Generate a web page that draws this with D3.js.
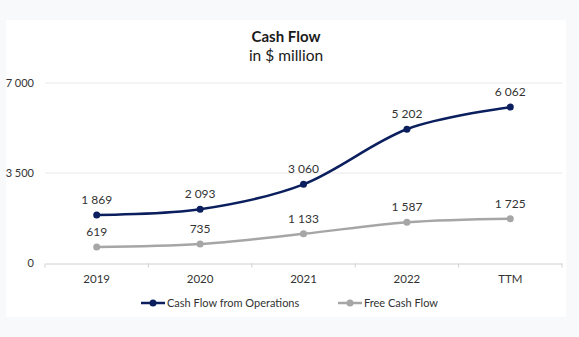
<!DOCTYPE html>
<html><head><meta charset="utf-8">
<script src="https://cdn.jsdelivr.net/npm/d3@7"></script>
<style>
html,body{margin:0;padding:0;background:#f8f9fb;}
svg{display:block;font-family:Lato,"Open Sans",sans-serif;}
</style></head>
<body><svg id="c" width="579" height="337"></svg>
<script>
const categories = ["2019","2020","2021","2022","TTM"];
const cashFlowOps = [1869,2093,3060,5202,6062];
const freeCashFlow = [619,735,1133,1587,1725];
const yTicks = [0,3500,7000];
const seriesNames = ["Cash Flow from Operations","Free Cash Flow"];
const colors = ["#0b1f5e","#a6a6a6"];

const svg = d3.select("#c");
svg.append("rect").attr("x",6).attr("y",20).attr("width",560).attr("height",297).attr("fill","#fff");

const x = d3.scaleBand().domain(categories).range([45,562]);
const y = d3.scaleLinear().domain([0,7000]).range([263,83]);
const fmt = v => d3.format(",")(v).replace(/,/g," ");

svg.append("text").attr("x",286).attr("y",42).attr("text-anchor","middle")
  .attr("font-size",15).attr("font-weight","bold").attr("fill","#1a1a1a").text("Cash Flow");
svg.append("text").attr("x",286).attr("y",61).attr("text-anchor","middle")
  .attr("font-size",15.5).attr("fill","#1a1a1a").text("in $ million");

svg.append("g").selectAll("line").data(yTicks.filter(d=>d>0)).join("line")
  .attr("x1",45).attr("x2",562).attr("y1",d=>y(d)).attr("y2",d=>y(d))
  .attr("stroke","#e8e8e8").attr("stroke-width",1);

svg.append("g").selectAll("text").data(yTicks).join("text")
  .attr("x",34).attr("y",d=>y(d)+4).attr("text-anchor","end")
  .attr("font-size",11).attr("fill","#333").text(fmt);

const xa = svg.append("g").attr("transform","translate(0,263.5)")
  .call(d3.axisBottom(x).tickSize(0).tickPadding(11));
xa.select(".domain").attr("stroke","#d0d0d0");
xa.selectAll("text").attr("font-size",11.5).attr("fill","#333").attr("font-family","Lato,sans-serif");
svg.append("g").selectAll("line").data(d3.range(categories.length+1)).join("line")
  .attr("x1",i=>45+i*x.bandwidth()).attr("x2",i=>45+i*x.bandwidth())
  .attr("y1",263.5).attr("y2",267.5).attr("stroke","#d0d0d0");

const cx = d => x(d)+x.bandwidth()/2;
const line = d3.line().x(d=>cx(d.c)).y(d=>y(d.v)).curve(d3.curveCatmullRom.alpha(0));

[cashFlowOps, freeCashFlow].forEach((vals,si)=>{
  const data = vals.map((v,i)=>({c:categories[i],v}));
  svg.append("path").datum(data).attr("d",line).attr("fill","none")
    .attr("stroke",colors[si]).attr("stroke-width",2.5);
  svg.append("g").selectAll("circle").data(data).join("circle")
    .attr("cx",d=>cx(d.c)).attr("cy",d=>y(d.v)).attr("r",3.5).attr("fill",colors[si]);
  svg.append("g").selectAll("text").data(data).join("text")
    .attr("x",d=>cx(d.c)).attr("y",d=>y(d.v)-11).attr("text-anchor","middle")
    .attr("font-size",12).attr("fill","#333").text(d=>fmt(d.v));
});

const legX = [141,338];
seriesNames.forEach((n,i)=>{
  const g = svg.append("g");
  g.append("line").attr("x1",legX[i]).attr("x2",legX[i]+24).attr("y1",303).attr("y2",303)
    .attr("stroke",colors[i]).attr("stroke-width",2.5);
  g.append("circle").attr("cx",legX[i]+12).attr("cy",303).attr("r",3.5).attr("fill",colors[i]);
  g.append("text").attr("x",legX[i]+26).attr("y",307).attr("font-size",11).attr("fill","#333").text(n);
});
</script></body></html>
